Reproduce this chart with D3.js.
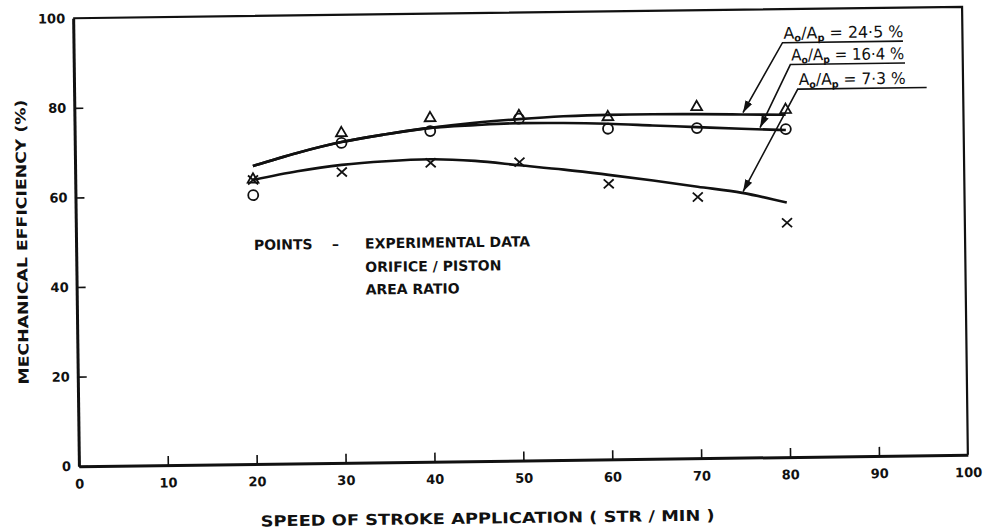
<!DOCTYPE html>
<html>
<head>
<meta charset="utf-8">
<script src="https://cdn.jsdelivr.net/npm/d3@7/dist/d3.min.js"></script>
<style>
  body { margin: 0; background: #fff; }
  svg { display: block; }
  .tick text { font-family: "DejaVu Sans", sans-serif; font-weight: bold; font-size: 13px; fill: #111; }
  .lbl { font-family: "DejaVu Sans", sans-serif; fill: #111; }
</style>
</head>
<body>
<div id="chart"></div>
<script>
// measured speeds (str/min)
var speeds = [20, 30, 40, 50, 60, 70, 80];
// experimental points, mechanical efficiency (%)
var effTri = [63.5, 73.6, 76.7, 76.9, 76.4, 78.4, 77.5];   // triangles
var effCirc = [60.0, 71.4, 73.8, 76.3, 73.8, 73.7, 73.2];  // circles
var effCross = [63.4, 64.9, 66.7, 66.6, 61.5, 58.3, 52.3]; // crosses

// faired curves
var fitSpeeds = [20, 25, 30, 35, 40, 45, 50, 55, 60, 65, 70, 75, 80];
var fit245 = [66.5, 69.3, 71.6, 73.2, 74.5, 75.5, 76.2, 76.7, 76.9, 76.9, 76.8, 76.6, 76.4];
var fit164 = [66.5, 69.3, 71.6, 73.2, 74.5, 75.0, 75.3, 75.2, 74.9, 74.4, 73.9, 73.4, 73.0];
var fit73 = [63.4, 65.2, 66.5, 67.2, 67.5, 67.0, 65.9, 64.8, 63.5, 62.1, 60.6, 59.1, 56.8];

var xTicks = [0, 10, 20, 30, 40, 50, 60, 70, 80, 90, 100];
var yTicks = [0, 20, 40, 60, 80, 100];

// area ratio labels: number, speed where arrow hits curve, efficiency there, label height
var ratios = ["24·5", "16·4", "7·3"];
var arrowAt = [75.2, 77.1, 75.1];
var arrowEff = [77.0, 73.6, 59.4];
var labelEff = [92.5, 87.6, 82.1];
var labelFrom = [79.75, 80.6, 81.4];
var labelTo = [93.3, 93.5, 95.9];

var width = 991, height = 532;

var svg = d3.select("#chart").append("svg")
    .attr("width", width)
    .attr("height", height);
svg.append("rect").attr("width", width).attr("height", height).attr("fill", "#fff");

// the scanned sheet sits slightly tilted
var g = svg.append("g").attr("transform", "rotate(-0.74,520.5,236.5)");

var x = d3.scaleLinear().domain([0, 100]).range([76, 965]);
var y = d3.scaleLinear().domain([0, 100]).range([460.5, 12.5]);

// frame top + right
g.append("path")
    .attr("d", "M" + x(0) + "," + y(100) + "H" + x(100) + "V" + y(0))
    .attr("fill", "none").attr("stroke", "#111").attr("stroke-width", 2.2);

var xAxis = g.append("g")
    .attr("transform", "translate(0," + y(0) + ")")
    .call(d3.axisBottom(x).tickValues(xTicks).tickSize(-9).tickPadding(13).tickSizeOuter(0));
var yAxis = g.append("g")
    .attr("transform", "translate(" + x(0) + ",0)")
    .call(d3.axisLeft(y).tickValues(yTicks).tickSize(-9).tickPadding(8).tickSizeOuter(0));

[xAxis, yAxis].forEach(function(a){
    a.select(".domain").attr("stroke", "#111").attr("stroke-width", 3);
    a.selectAll(".tick line").attr("stroke", "#111").attr("stroke-width", 1.6);
});
yAxis.selectAll(".tick").filter(function(d){ return d == 100; }).select("line").remove();
xAxis.selectAll(".tick").filter(function(d){ return d == 100; }).select("line").remove();

// axis titles
g.append("text").attr("class", "lbl")
    .attr("transform", "translate(27,235.6) rotate(-90)")
    .attr("text-anchor", "middle")
    .attr("font-weight", "bold").attr("font-size", 14)
    .attr("textLength", 285).attr("lengthAdjust", "spacingAndGlyphs")
    .text("MECHANICAL EFFICIENCY (%)");

g.append("text").attr("class", "lbl")
    .attr("x", 484).attr("y", 523)
    .attr("text-anchor", "middle")
    .attr("font-size", 15).attr("font-weight", 600)
    .attr("textLength", 454).attr("lengthAdjust", "spacingAndGlyphs")
    .text("SPEED OF STROKE APPLICATION ( STR / MIN )");

// faired curves
var line = d3.line()
    .x(function(d){ return x(d[0]); })
    .y(function(d){ return y(d[1]); })
    .curve(d3.curveMonotoneX);

[fit245, fit164, fit73].forEach(function(s){
    g.append("path")
        .datum(fitSpeeds.map(function(v, i){ return [v, s[i]]; }))
        .attr("d", line)
        .attr("fill", "none")
        .attr("stroke", "#111")
        .attr("stroke-width", 2.6);
});

// points
var pts = g.append("g").attr("fill", "none").attr("stroke", "#111").attr("stroke-width", 1.8);
pts.selectAll(".tri").data(effTri).enter().append("path")
    .attr("d", d3.symbol().type(d3.symbolTriangle).size(50))
    .attr("transform", function(d, i){ return "translate(" + x(speeds[i]) + "," + y(d) + ")"; });
pts.selectAll(".circ").data(effCirc).enter().append("circle")
    .attr("cx", function(d, i){ return x(speeds[i]); })
    .attr("cy", function(d){ return y(d); })
    .attr("r", 5);
pts.selectAll(".cross").data(effCross).enter().append("path")
    .attr("d", "M-5,-4.5L5,4.5M-5,4.5L5,-4.5")
    .attr("transform", function(d, i){ return "translate(" + x(speeds[i]) + "," + y(d) + ")"; });

// legend text
var leg = g.append("g").attr("class", "lbl").attr("font-weight", "bold").attr("font-size", 14);
leg.append("text").attr("x", x(20)).attr("y", 246.5).text("POINTS");
leg.append("text").attr("x", x(20) + 78).attr("y", 246.5).text("–");
leg.append("text").attr("x", x(32.5)).attr("y", 246.5).text("EXPERIMENTAL DATA");
leg.append("text").attr("x", x(32.5)).attr("y", 270).text("ORIFICE / PISTON");
leg.append("text").attr("x", x(32.5)).attr("y", 292.5).text("AREA RATIO");

// arrow marker
svg.append("defs").append("marker")
    .attr("id", "arr")
    .attr("viewBox", "0 0 10 10")
    .attr("refX", 10).attr("refY", 5)
    .attr("markerWidth", 12).attr("markerHeight", 12)
    .attr("markerUnits", "userSpaceOnUse")
    .attr("orient", "auto")
    .append("path").attr("d", "M0,1.8L10,5L0,8.2Z").attr("fill", "#111");

var textLen = [120, 113, 107];
ratios.forEach(function(r, i){
    var ly = y(labelEff[i]);
    g.append("path")
        .attr("d", "M" + x(labelTo[i]) + "," + ly + "H" + x(labelFrom[i]) +
              "L" + x(arrowAt[i]) + "," + y(arrowEff[i]))
        .attr("fill", "none").attr("stroke", "#111").attr("stroke-width", 1.6)
        .attr("marker-end", "url(#arr)");
    var t = g.append("text").attr("class", "lbl")
        .attr("x", x(labelFrom[i]) + 1).attr("y", ly - 4)
        .attr("font-size", 16)
        .attr("textLength", textLen[i]).attr("lengthAdjust", "spacingAndGlyphs");
    t.append("tspan").text("A");
    t.append("tspan").attr("font-size", 10).attr("dy", 3).attr("font-weight", "bold").text("o");
    t.append("tspan").attr("dy", -3).text("/A");
    t.append("tspan").attr("font-size", 10).attr("dy", 3).attr("font-weight", "bold").text("p");
    t.append("tspan").attr("dy", -3).text(" = " + r + " %");
});
</script>
</body>
</html>
